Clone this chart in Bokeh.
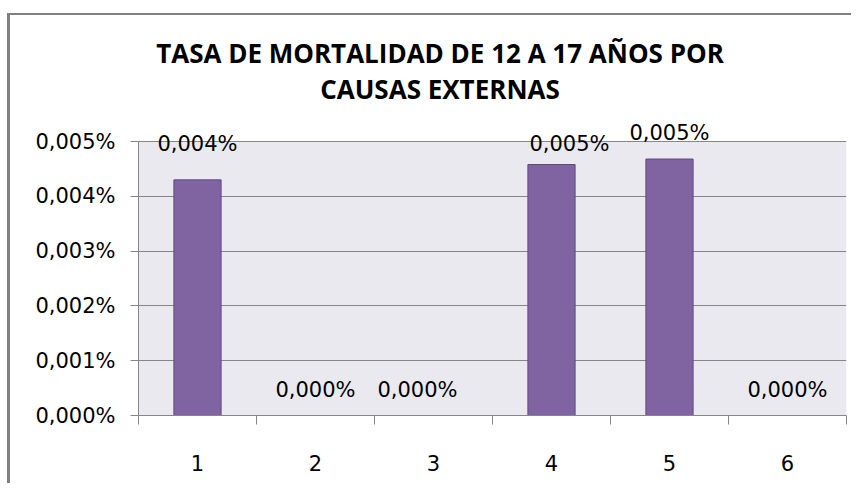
from bokeh.plotting import figure
from bokeh.models import ColumnDataSource, FixedTicker, Label, LabelSet, BoxAnnotation
from bokeh.core.properties import value
from bokeh.embed import file_html
from bokeh.resources import INLINE

# ---- data ----
categories = [1, 2, 3, 4, 5, 6]
rates = [0.0043, 0.0, 0.0, 0.00458, 0.00468, 0.0]  # percent
y_ticks = [0.000, 0.001, 0.002, 0.003, 0.004, 0.005]
y_tick_labels = ["0,000%", "0,001%", "0,002%", "0,003%", "0,004%", "0,005%"]
x_tick_labels = ["1", "2", "3", "4", "5", "6"]
title_line1 = "TASA DE MORTALIDAD DE 12 A 17 AÑOS POR"
title_line2 = "CAUSAS EXTERNAS"

# label placement (style, pixels; positive = up)
label_dx = [0, 0, -16, 18, 0, 0]
label_dy = [29, 19, 19, 14, 19, 19]

value_labels = [f"{v:.3f}".replace(".", ",") + "%" for v in rates]

src = ColumnDataSource(dict(x=categories, top=rates, lab=value_labels,
                            dx=label_dx, dy=label_dy))

GRAY = "#868686"
FONT = "DejaVu Sans"
FS = "21px"

# frame covers the whole area under the title; the plot area (0..max tick)
# takes the lower 274 of its 400 px
FRAME_H, AREA_H = 400, 274
y_top = y_ticks[-1] * FRAME_H / AREA_H

p = figure(width=844, height=470, output_backend="svg", toolbar_location=None,
           x_range=(0.5, 6.5), y_range=(0, y_top),
           min_border_left=128, min_border_right=8, min_border_top=0,
           min_border_bottom=70)
p.styles = {"border-left": "3px solid #808080", "border-top": "2px solid #808080",
            "margin-top": "13px", "margin-left": "7px"}
p.background_fill_color = "white"
p.border_fill_color = "white"
p.outline_line_color = None

p.add_layout(BoxAnnotation(bottom=y_ticks[0], top=y_ticks[-1], fill_color="#EBE9F0",
                           fill_alpha=1, line_color=None, level="image"))

p.vbar(x="x", top="top", width=0.4, source=src, fill_color="#8064A2",
       line_color="#5C4A7D", line_width=1)

p.add_layout(LabelSet(x="x", y="top", text="lab", source=src, x_offset="dx",
                      y_offset="dy", text_align="center", text_baseline="alphabetic",
                      text_font=value(FONT), text_font_size=value(FS),
                      text_color="black"))

# x axis
xa = p.xaxis[0]
xa.ticker = FixedTicker(ticks=categories,
                        minor_ticks=[c - 0.5 for c in categories] + [categories[-1] + 0.5])
xa.major_label_overrides = {c: t for c, t in zip(categories, x_tick_labels)}
xa.major_tick_out = 0
xa.major_tick_in = 0
xa.minor_tick_out = 9
xa.minor_tick_in = 0
xa.minor_tick_line_color = GRAY
xa.axis_line_color = GRAY
xa.major_label_standoff = 30
xa.major_label_text_font = FONT
xa.major_label_text_font_size = FS
xa.major_label_text_color = "black"

# y axis
ya = p.yaxis[0]
ya.ticker = FixedTicker(ticks=y_ticks, minor_ticks=[])
ya.bounds = (y_ticks[0], y_ticks[-1])
ya.major_label_overrides = {t: l for t, l in zip(y_ticks, y_tick_labels)}
ya.major_tick_out = 8
ya.major_tick_in = 0
ya.major_tick_line_color = GRAY
ya.axis_line_color = GRAY
ya.major_label_standoff = 15
ya.major_label_text_font = FONT
ya.major_label_text_font_size = FS
ya.major_label_text_color = "black"

p.xgrid.grid_line_color = None
p.ygrid.grid_line_color = GRAY
p.ygrid.ticker = ya.ticker
p.ygrid.level = "underlay"

# title lines (screen units relative to the plot frame)
for txt, ypos in ((title_line1, 363), (title_line2, 327)):
    p.add_layout(Label(x=301.5, y=ypos, x_units="screen", y_units="screen", text=txt,
                       text_align="center", text_baseline="alphabetic",
                       text_font="Open Sans", text_font_style="bold",
                       text_font_size="26px", text_color="black"))

open("out.html", "w").write(file_html(p, INLINE))
